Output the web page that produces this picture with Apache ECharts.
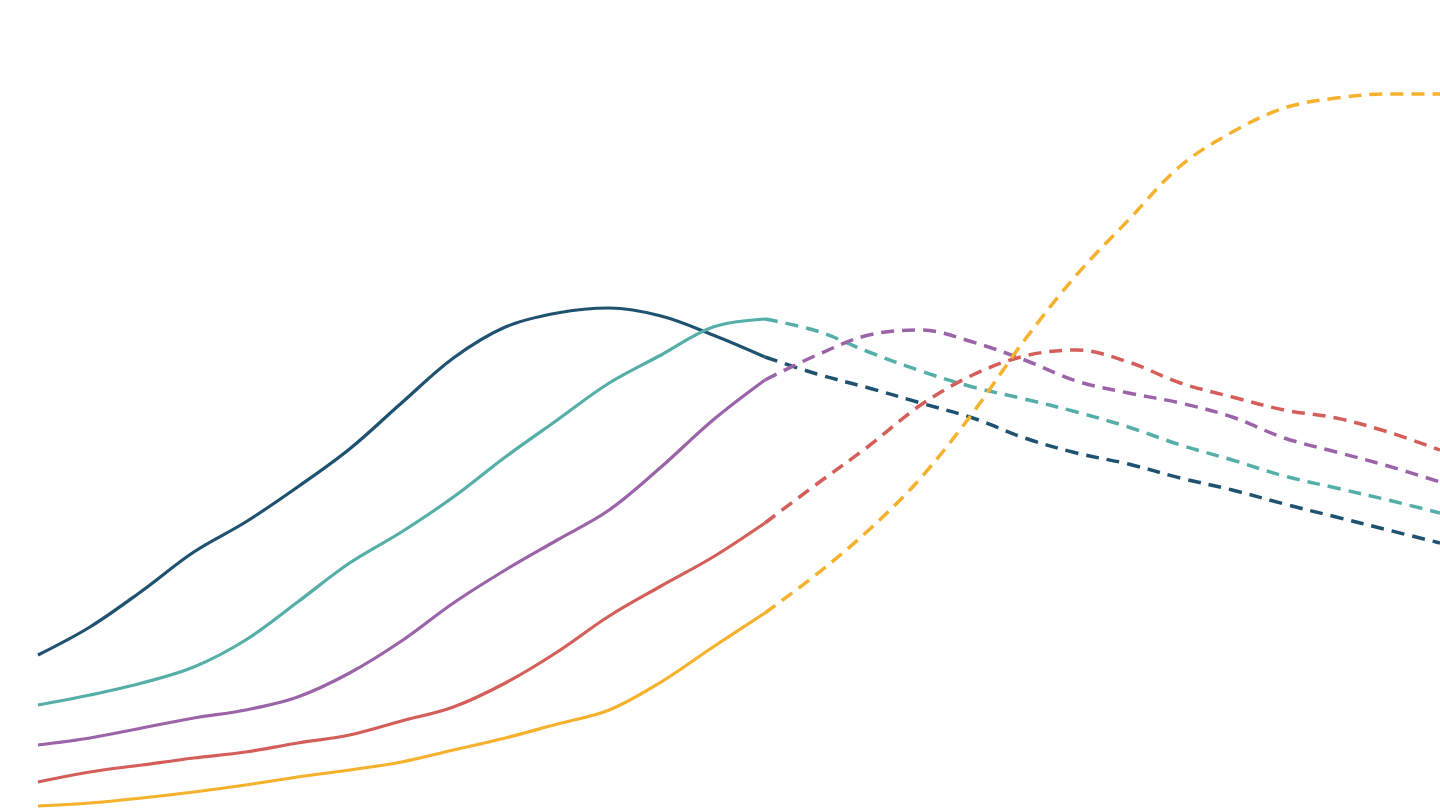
<!DOCTYPE html>
<html>
<head>
<meta charset="utf-8">
<script src="https://cdn.jsdelivr.net/npm/echarts@6/dist/echarts.min.js"></script>
<style>html,body{margin:0;padding:0;background:#fff;}#c{width:1440px;height:810px;}</style>
</head>
<body>
<div id="c"></div>
<script>
// x: years (5-year steps); projection (dashed) starts at 2020
const years = [1950,1955,1960,1965,1970,1975,1980,1985,1990,1995,2000,2005,2010,2015,2020,2025,2030,2035,2040,2045,2050,2055,2060,2065,2070,2075,2080,2085];
const projectionStart = 2020;
const seriesDarkBlue = [7.75,9.15,10.95,12.9,14.4,16.15,18.05,20.35,22.6,24.15,24.85,25.1,24.7,23.75,22.65,21.8,21.1,20.35,19.6,18.6,17.85,17.3,16.6,16.0,15.3,14.65,14.0,13.35];
const seriesTeal     = [5.25,5.75,6.35,7.15,8.5,10.4,12.35,13.9,15.65,17.65,19.5,21.35,22.75,24.15,24.55,23.95,22.9,21.95,21.15,20.55,19.9,19.15,18.25,17.5,16.7,16.1,15.5,14.85];
const seriesPurple   = [3.25,3.6,4.1,4.6,5.0,5.65,6.85,8.45,10.35,12.0,13.5,15.0,17.15,19.5,21.5,22.75,23.75,24.0,23.4,22.5,21.45,20.85,20.35,19.65,18.6,17.9,17.2,16.4];
const seriesRed      = [1.4,1.9,2.25,2.6,2.9,3.35,3.75,4.45,5.15,6.35,7.9,9.7,11.2,12.65,14.35,16.3,18.2,20.25,21.75,22.7,23.0,22.4,21.35,20.65,20.0,19.6,18.9,18.0];
const seriesYellow   = [0.2,0.35,0.6,0.9,1.25,1.65,2.0,2.4,3.0,3.6,4.3,5.0,6.4,8.15,9.85,11.8,14.0,16.6,19.85,23.5,26.75,29.5,32.2,33.9,35.1,35.6,35.8,35.8];

const lines = [
  {name:'A', data:seriesDarkBlue, color:'#1e5270'},
  {name:'B', data:seriesTeal, color:'#55afa8'},
  {name:'C', data:seriesPurple, color:'#9b64a8'},
  {name:'D', data:seriesRed, color:'#d45f5a'},
  {name:'E', data:seriesYellow, color:'#f6b12d'}
];

const series = [];
lines.forEach(l => {
  series.push({
    type:'line', name:l.name, smooth:0.35, symbol:'none', silent:true,
    data: years.map((y,i)=> y <= projectionStart ? [y, l.data[i]] : [y, null]),
    lineStyle:{color:l.color, width:3.2},
    clip:false
  });
  series.push({
    type:'line', name:l.name+'p', smooth:0.35, symbol:'none', silent:true,
    data: years.map((y,i)=> y >= projectionStart ? [y, l.data[i]] : [y, null]),
    lineStyle:{color:l.color, width:3.5, type:[13,8]},
    clip:false
  });
});

const chart = echarts.init(document.getElementById('c'));
chart.setOption({
  animation:false,
  backgroundColor:'#ffffff',
  grid:{left:38, right:0, top:0, bottom:0, containLabel:false},
  xAxis:{type:'value', min:1950, max:2085, show:false},
  yAxis:{type:'value', min:0, max:40.5, show:false},
  series: series
});
</script>
</body>
</html>
